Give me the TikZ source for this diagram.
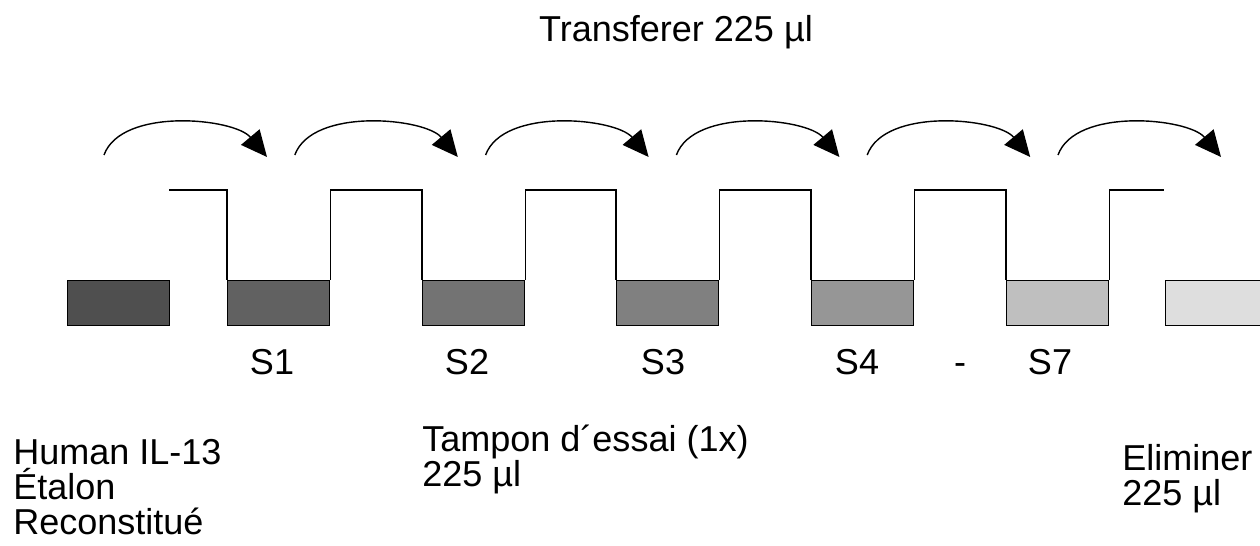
\documentclass[tikz,border=0pt]{standalone}
\usepackage{fontspec}
\setmainfont{Liberation Sans}
\usetikzlibrary{arrows.meta}
\begin{document}
\begin{tikzpicture}[x=0.02cm,y=0.02cm,font=\fontsize{20.5pt}{20pt}\selectfont,
  well/.style={draw,line width=0.8pt,minimum width=2.04cm,minimum height=0.9cm,inner sep=0pt,anchor=south west},
  wall/.style={line width=0.8pt},
  pipette/.style={line width=0.8pt,-{Triangle[length=0.52cm,width=0.48cm]}},
  lbl/.style={inner sep=0pt,anchor=base}]
\useasboundingbox (0,0) rectangle (1260,546);
% wells, darkest to lightest
\foreach \n/\x/\shade in {0/67/69,1/227/62,2/422/55,3/616/50,4/811/41,5/1006/25,6/1165/13}
  \node [well,fill=black!\shade] (w\n) at (\x,220) {};
% tube walls
\coordinate (rim) at (0,356);
\coordinate (lipL) at (169,356);
\coordinate (lipR) at (1164,356);
\draw [wall] (lipL) -| (w1.north west);
\foreach \n/\m in {1/2,2/3,3/4,4/5}
  \draw [wall] (w\n.north east) -- (w\n.north east |- rim) -| (w\m.north west);
\draw [wall] (w5.north east) |- (lipR);
% transfer arrows
\foreach \i in {0,...,5} {
  \coordinate (a\i) at (104+190.8*\i,391);
  \coordinate (b\i) at (267+190.8*\i,389);
  \draw [pipette] (a\i) to[out=70,in=130,looseness=0.8] (b\i);
}
% labels
\node [lbl] (title) at (676,504) {Transferer 225 µl};
\foreach \x/\s in {272/S1,467/S2,663/S3,857/S4,1050/S7}
  \node [lbl] (l\s) at (\x,171) {\s};
\node [lbl] (dash) at (960,171) {-};
\node [lbl,anchor=base west,align=left] (std) at (13,11) {Human IL-13\\Étalon\\Reconstitué};
\node [lbl,anchor=base west,align=left] (buffer) at (422,59) {Tampon d´essai (1x)\\225 µl};
\node [lbl,anchor=base west,align=left] (waste) at (1122,40) {Eliminer\\225 µl};
\end{tikzpicture}
\end{document}
